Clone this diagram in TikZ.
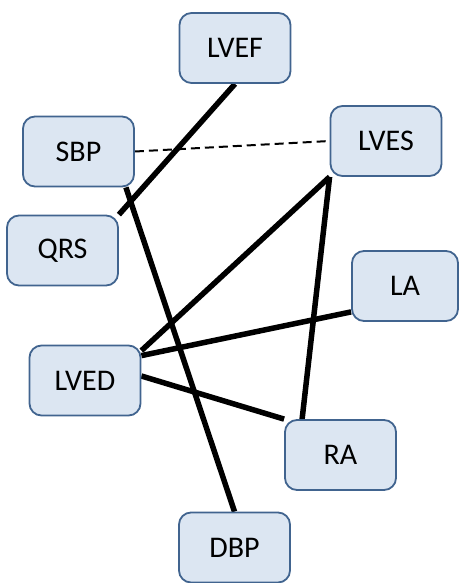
\documentclass[tikz,border=0pt]{standalone}
\usepackage{fontspec}
\setmainfont{Carlito}
\usepackage{xcolor}
\usetikzlibrary{backgrounds}

\definecolor{boxfill}{HTML}{DCE6F2}
\definecolor{boxline}{HTML}{41648F}

\begin{document}
\begin{tikzpicture}[x=1pt, y=-1pt,
        every node/.append style={font=\fontsize{30}{36}\selectfont}]
      \tikzstyle{box} = [draw=boxline, fill=boxfill, line width=1.8pt, rounded corners=12pt,
        minimum width=111pt, minimum height=70pt, inner sep=0pt]
      \tikzstyle{link} = [line width=5.5pt, black]
      \tikzstyle{weak} = [line width=2pt, black, dash pattern=on 9pt off 5pt]
      \useasboundingbox (0,0) rectangle (460,583);
      \node (LVEF) [box] at (235,48) {LVEF};
      \node (SBP) [box] at (78.5,151.5) {SBP};
      \node (QRS) [box] at (62.5,250.5) {QRS};
      \node (LVES) [box] at (386,141) {LVES};
      \node (LA) [box, minimum width=106pt] at (405,286) {LA};
      \node (LVED) [box] at (85,380.5) {LVED};
      \node (RA) [box] at (340.5,455) {RA};
      \node (DBP) [box] at (234.5,547.5) {DBP};
      \begin{scope}[on background layer]
        \draw[link] (LVEF.south) -- (QRS.north east);
        \draw[weak] (SBP.east) -- (LVES.west);
        \draw[link] ([xshift=-9pt]SBP.south east) -- (DBP.north);
        \draw[link] (LVES.south west) -- ([yshift=-6pt]LVED.north east);
        \draw[link] (LVES.south west) -- ([xshift=18pt]RA.north west);
        \draw[link] ([yshift=10pt]LA.south west) -- ([yshift=-11pt]LVED.north east);
        \draw[link] ([yshift=4.5pt]LVED.east) -- (RA.north west);
      \end{scope}
\end{tikzpicture}
\end{document}
